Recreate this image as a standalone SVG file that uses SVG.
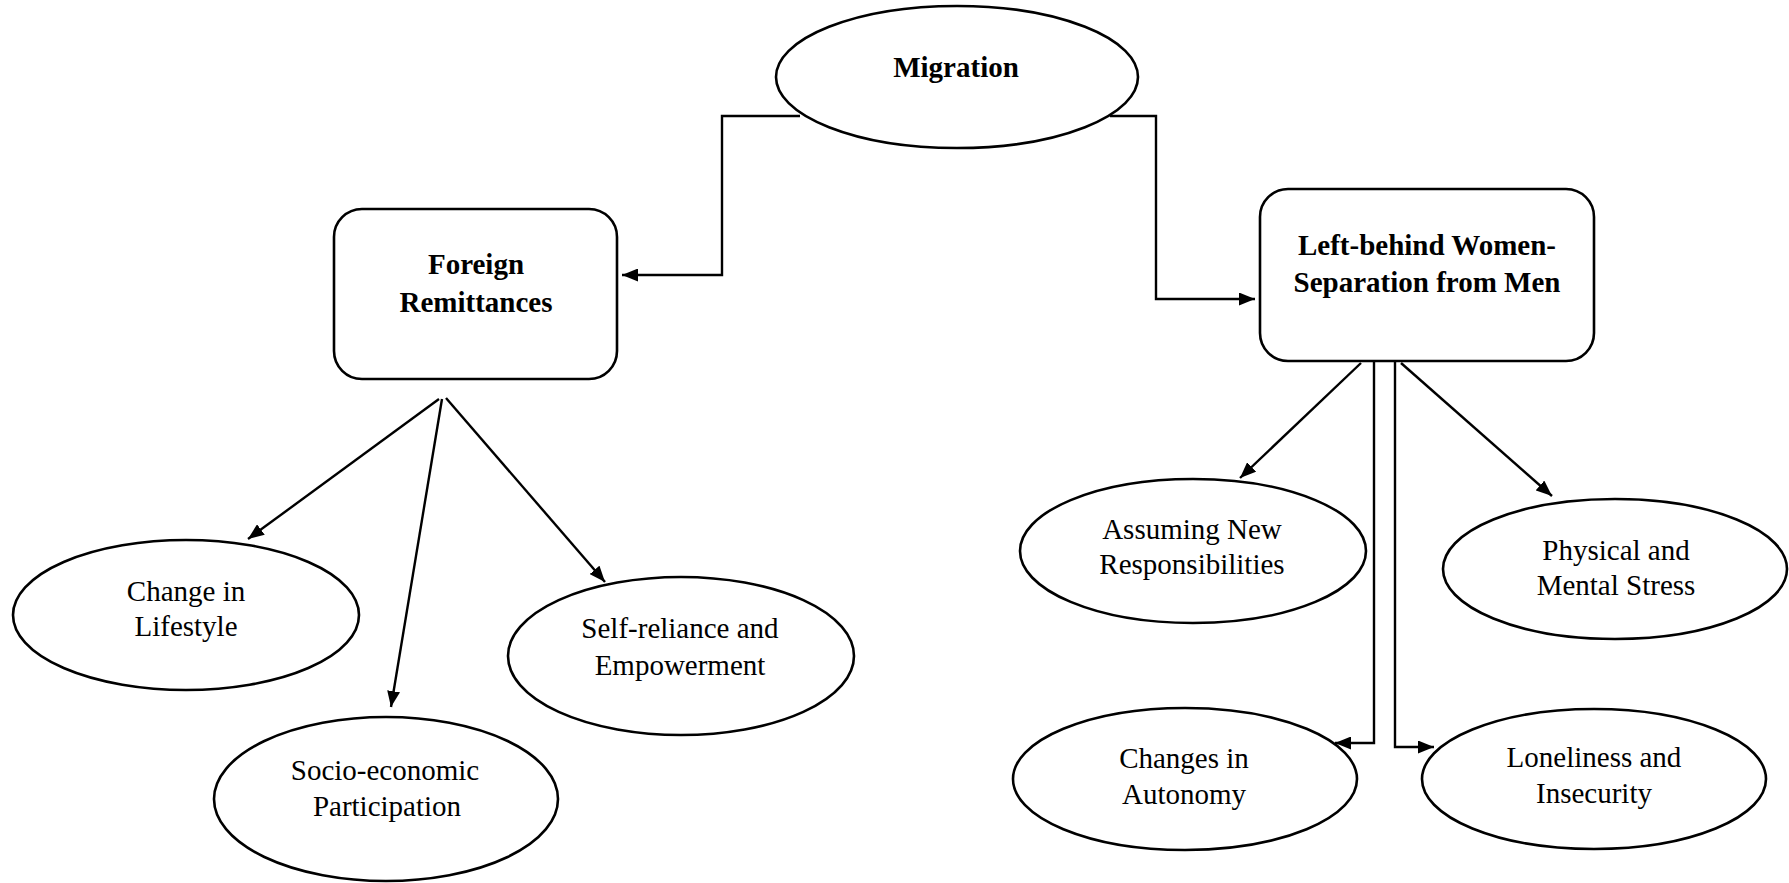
<svg xmlns="http://www.w3.org/2000/svg" width="1789" height="883" viewBox="0 0 1789 883">
  <style>
    .shape { fill: #ffffff; stroke: #000000; stroke-width: 2.6; }
    .link { fill: none; stroke: #000000; stroke-width: 2.4; marker-end: url(#arrow); }
    text { font-family: "Liberation Serif", "Times New Roman", serif; font-size: 29px; fill: #000000; text-anchor: middle; }
    .bold { font-weight: bold; }
  </style>
  <defs>
    <marker id="arrow" markerUnits="userSpaceOnUse" markerWidth="17" markerHeight="13" refX="16" refY="6.5" orient="auto">
      <path d="M0,0 L16,6.5 L0,13 z" fill="#000000"/>
    </marker>
  </defs>
  <rect width="1789" height="883" fill="#ffffff"/>

  <!-- connectors -->
  <g id="connectors">
    <polyline class="link" points="800,116 722,116 722,275 622,275"/>
    <polyline class="link" points="1110,116 1156,116 1156,299 1255,299"/>
    <line class="link" x1="439" y1="399" x2="248" y2="539"/>
    <line class="link" x1="442" y1="399" x2="391" y2="707"/>
    <line class="link" x1="446" y1="398" x2="605" y2="582"/>
    <line class="link" x1="1361" y1="363" x2="1240" y2="478"/>
    <polyline class="link" points="1374,361 1374,743 1335,743"/>
    <polyline class="link" points="1395,361 1395,747 1434,747"/>
    <line class="link" x1="1401" y1="363" x2="1552" y2="496"/>
  </g>

  <g id="migration">
    <ellipse class="shape" cx="957" cy="77" rx="181" ry="71"/>
    <text class="bold" x="956" y="77">Migration</text>
  </g>

  <g id="foreign-remittances">
    <rect class="shape" x="334" y="209" width="283" height="170" rx="28"/>
    <text class="bold" x="476" y="274">Foreign</text>
    <text class="bold" x="476" y="312">Remittances</text>
  </g>

  <g id="left-behind-women">
    <rect class="shape" x="1260" y="189" width="334" height="172" rx="28"/>
    <text class="bold" x="1427" y="255">Left-behind Women-</text>
    <text class="bold" x="1427" y="292">Separation from Men</text>
  </g>

  <g id="change-in-lifestyle">
    <ellipse class="shape" cx="186" cy="615" rx="173" ry="75"/>
    <text x="186" y="601">Change in</text>
    <text x="186" y="636">Lifestyle</text>
  </g>

  <g id="socio-economic-participation">
    <ellipse class="shape" cx="386" cy="799" rx="172" ry="82"/>
    <text x="385" y="780">Socio-economic</text>
    <text x="387" y="816">Participation</text>
  </g>

  <g id="self-reliance">
    <ellipse class="shape" cx="681" cy="656" rx="173" ry="79"/>
    <text x="680" y="638">Self-reliance and</text>
    <text x="680" y="675">Empowerment</text>
  </g>

  <g id="new-responsibilities">
    <ellipse class="shape" cx="1193" cy="551" rx="173" ry="72"/>
    <text x="1192" y="539">Assuming New</text>
    <text x="1192" y="574">Responsibilities</text>
  </g>

  <g id="stress">
    <ellipse class="shape" cx="1615" cy="569" rx="172" ry="70"/>
    <text x="1616" y="560">Physical and</text>
    <text x="1616" y="595">Mental Stress</text>
  </g>

  <g id="autonomy">
    <ellipse class="shape" cx="1185" cy="779" rx="172" ry="71"/>
    <text x="1184" y="768">Changes in</text>
    <text x="1184" y="804">Autonomy</text>
  </g>

  <g id="loneliness">
    <ellipse class="shape" cx="1594" cy="779" rx="172" ry="70"/>
    <text x="1594" y="767">Loneliness and</text>
    <text x="1594" y="803">Insecurity</text>
  </g>
</svg>
